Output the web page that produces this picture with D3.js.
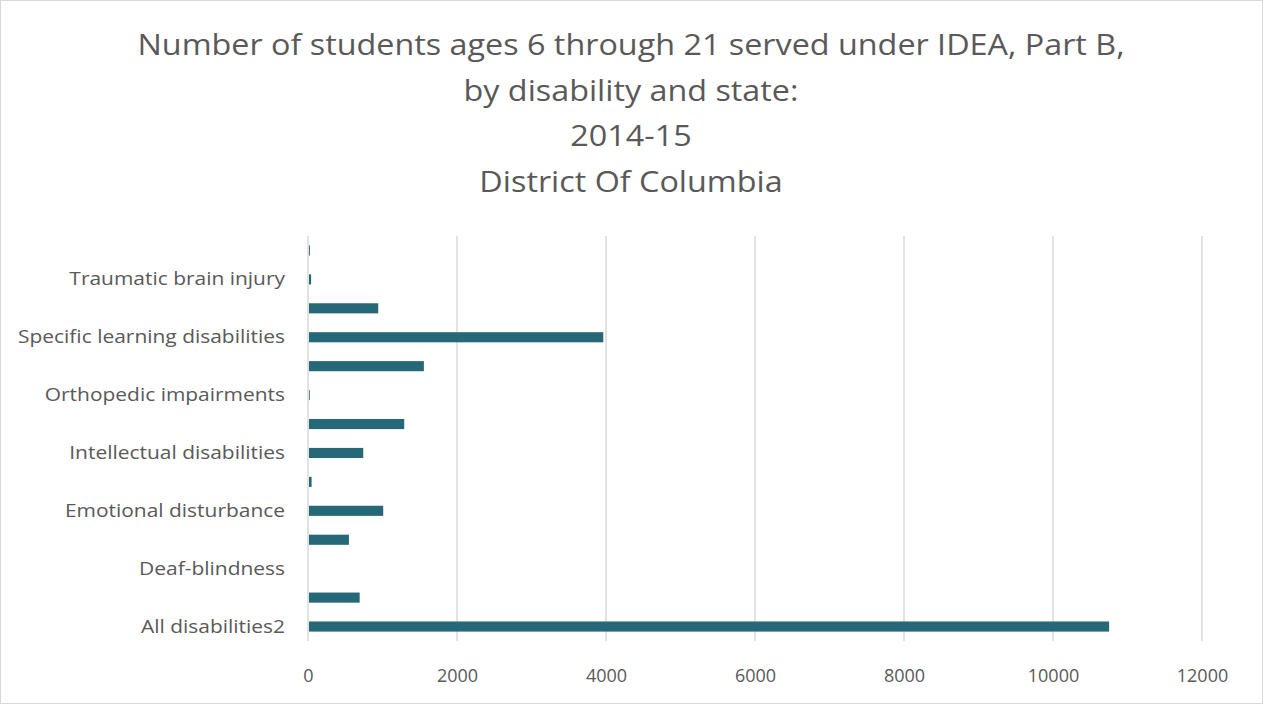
<!DOCTYPE html>
<html><head><meta charset="utf-8">
<script src="https://cdn.jsdelivr.net/npm/d3@7"></script>
<style>html,body{margin:0;padding:0;background:#fff;}svg{display:block;}</style>
</head><body>
<svg id="chart" width="1263" height="704"></svg>
<script>
const titleLines = ["Number of students ages 6 through 21 served under IDEA, Part B,", "by disability and state:", "2014-15", "District Of Columbia"];
const categories = ["All disabilities2", "Autism", "Deaf-blindness", "Developmental delay", "Emotional disturbance", "Hearing impairments", "Intellectual disabilities", "Multiple disabilities", "Orthopedic impairments", "Other health impairments", "Specific learning disabilities", "Speech or language impairments", "Traumatic brain injury", "Visual impairments"];
const values = [10740, 680, 0, 536, 996, 35, 728, 1278, 10, 1542, 3950, 929, 28, 12];
const xTicks = [0, 2000, 4000, 6000, 8000, 10000, 12000];

const svg = d3.select("#chart");
const W = 1263, H = 704;
const m = {left: 308, right: 61, top: 236, bottom: 63};
const font = "'Open Sans', 'Liberation Sans', sans-serif";
const textColor = "#595959";

svg.append("rect").attr("x", 0.5).attr("y", 0.5).attr("width", W - 1).attr("height", H - 1)
  .attr("fill", "#fff").attr("stroke", "#d9d9d9");

const x = d3.scaleLinear().domain([0, 12000]).range([m.left, W - m.right]);
const y = d3.scaleBand().domain(categories.slice().reverse()).range([m.top, H - m.bottom])
  .paddingInner(0.65).paddingOuter(0.325);

// gridlines
svg.append("g").selectAll("line").data(xTicks).join("line")
  .attr("x1", d => x(d)).attr("x2", d => x(d))
  .attr("y1", m.top).attr("y2", H - m.bottom)
  .attr("stroke", "#d9d9d9").attr("stroke-width", 1.5);

// bars
svg.append("g").selectAll("rect").data(categories).join("rect")
  .attr("x", x(0) + 1)
  .attr("y", d => y(d))
  .attr("width", (d, i) => Math.max(0, x(values[i]) - x(0)))
  .attr("height", y.bandwidth())
  .attr("fill", "#276878");

// x axis
const xAxis = d3.axisBottom(x).tickValues(xTicks).tickSize(0).tickPadding(0).tickFormat(d3.format("d"));
const gx = svg.append("g").attr("transform", `translate(0,${H - m.bottom + 35})`).call(xAxis);
gx.select(".domain").remove();
gx.selectAll("text").attr("font-family", font).attr("font-size", 18).attr("fill", textColor).attr("dy", "0.32em");

// y axis (every other label)
const yAxis = d3.axisLeft(y).tickSize(0).tickPadding(0)
  .tickFormat((d) => (categories.indexOf(d) % 2 === 0 ? d : ""));
const gy = svg.append("g").attr("transform", `translate(${m.left - 23},0)`).call(yAxis);
gy.select(".domain").remove();
const yTexts = gy.selectAll("text").attr("font-family", font).attr("font-size", 19).attr("fill", textColor);
// horizontal condensing to mimic the narrow original face
let refNode = null;
yTexts.each(function() { if (this.textContent === "Specific learning disabilities") refNode = this; });
const ky = refNode ? 267 / refNode.getComputedTextLength() : 1;
yTexts.each(function() {
  if (this.textContent) {
    const L = this.getComputedTextLength();
    d3.select(this).attr("textLength", L * ky).attr("lengthAdjust", "spacingAndGlyphs");
  }
});

// title
const tt = svg.append("g").selectAll("text").data(titleLines).join("text")
  .attr("x", 631).attr("y", (d, i) => 55 + i * 45.5)
  .attr("text-anchor", "middle")
  .attr("font-family", font).attr("font-size", 30).attr("fill", textColor)
  .text(d => d);
const kt = 987 / tt.nodes()[0].getComputedTextLength();
tt.each(function() {
  const L = this.getComputedTextLength();
  d3.select(this).attr("textLength", L * kt).attr("lengthAdjust", "spacingAndGlyphs");
});
</script>
</body></html>
